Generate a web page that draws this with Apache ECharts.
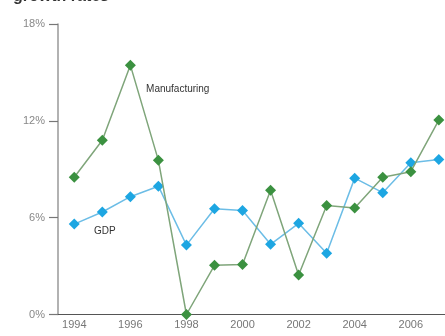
<!DOCTYPE html>
<html>
<head>
<meta charset="utf-8">
<script src="https://cdn.jsdelivr.net/npm/echarts@6/dist/echarts.min.js"></script>
<style>
  html, body { margin: 0; padding: 0; background: #fff; }
  #chart { width: 445px; height: 336px; }
</style>
</head>
<body>
<div id="chart"></div>
<script>
// Annual growth, percent
const years = [1994, 1995, 1996, 1997, 1998, 1999, 2000, 2001, 2002, 2003, 2004, 2005, 2006, 2007];
const manufacturing = [8.5, 10.8, 15.45, 9.55, 0, 3.05, 3.1, 7.7, 2.45, 6.75, 6.6, 8.5, 8.85, 12.05];
const gdp = [5.6, 6.35, 7.3, 7.95, 4.3, 6.55, 6.45, 4.35, 5.65, 3.8, 8.45, 7.55, 9.4, 9.6];
const yearTicks = [1994, 1996, 1998, 2000, 2002, 2004, 2006];
const pctTicks = [0, 6, 12, 18];

const pairs = (vals) => years.map((y, i) => [y, vals[i]]);

const chart = echarts.init(document.getElementById('chart'), null, { renderer: 'canvas' });

const labelText = { color: '#333', fontSize: 10, fontFamily: 'Liberation Sans, Arial, sans-serif' };

chart.setOption({
  animation: false,
  backgroundColor: '#ffffff',
  title: {
    text: 'growth rates',
    left: 8,
    top: -16,
    textStyle: { color: '#333', fontSize: 16, fontWeight: 'bold', fontFamily: 'Liberation Sans, Arial, sans-serif' }
  },
  grid: { left: 58, right: 0, top: 24, bottom: 21.5 },
  xAxis: {
    type: 'value',
    min: 1993.42,
    max: 2007.22,
    axisLine: { show: true, lineStyle: { color: '#555', width: 1.2 } },
    axisTick: { show: false },
    splitLine: { show: false },
    axisLabel: {
      customValues: yearTicks,
      color: '#777',
      fontSize: 11,
      margin: 5,
      fontFamily: 'Liberation Sans, Arial, sans-serif',
      formatter: (v) => String(v)
    }
  },
  yAxis: {
    type: 'value',
    min: 0,
    max: 18,
    interval: 6,
    axisLine: { show: true, lineStyle: { color: '#999', width: 1.5 } },
    axisTick: { show: true, customValues: pctTicks, length: 9, lineStyle: { color: '#777', width: 1.2 } },
    splitLine: { show: false },
    axisLabel: {
      customValues: pctTicks,
      color: '#888',
      fontSize: 11,
      margin: 13,
      fontFamily: 'Liberation Sans, Arial, sans-serif',
      formatter: (v) => v + '%'
    }
  },
  series: [
    {
      name: 'GDP',
      type: 'line',
      data: pairs(gdp),
      symbol: 'diamond',
      symbolSize: 11,
      z: 3,
      itemStyle: { color: '#1da6e2' },
      lineStyle: { color: '#6cbde6', width: 1.5 },
      markPoint: {
        symbol: 'circle',
        symbolSize: 0,
        silent: true,
        data: [{ coord: [1994.7, 5.15], value: 'GDP' }],
        label: Object.assign({ show: true, position: 'right', distance: 0, formatter: 'GDP' }, labelText)
      }
    },
    {
      name: 'Manufacturing',
      type: 'line',
      data: pairs(manufacturing),
      symbol: 'diamond',
      symbolSize: 11,
      z: 4,
      itemStyle: { color: '#3b9140' },
      lineStyle: { color: '#7fa57a', width: 1.5 },
      markPoint: {
        symbol: 'circle',
        symbolSize: 0,
        silent: true,
        data: [{ coord: [1996.56, 13.97], value: 'Manufacturing' }],
        label: Object.assign({ show: true, position: 'right', distance: 0, formatter: 'Manufacturing' }, labelText)
      }
    }
  ]
});
</script>
</body>
</html>
